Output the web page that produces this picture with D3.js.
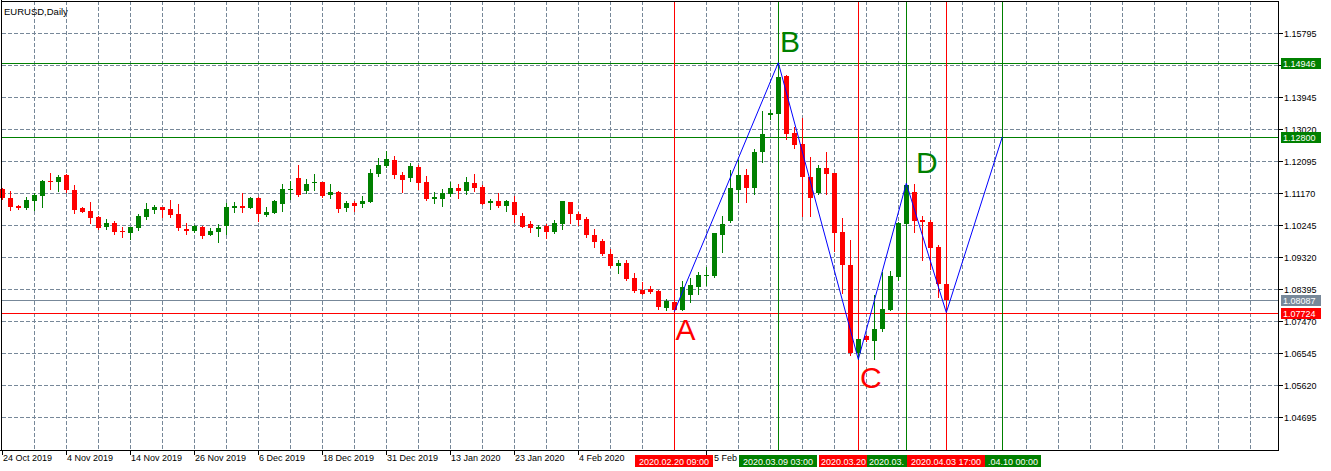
<!DOCTYPE html>
<html><head><meta charset="utf-8">
<script src="https://cdn.jsdelivr.net/npm/d3@7"></script>
<style>
body{margin:0;background:#fff}
svg{display:block}
text{font-family:"Liberation Sans",Arial,sans-serif}
</style>
</head><body>
<svg id="chart" width="1331" height="471"></svg>
<script>
// ---- data (EURUSD daily) ----
const opens = [1.1130,1.1104,1.1080,1.1075,1.1095,1.1110,1.1154,1.1150,1.1170,1.1127,
1.1075,1.1066,1.1049,1.1020,1.1031,1.1009,1.1002,1.1018,1.1048,1.1069,
1.1078,1.1072,1.1057,1.1014,1.1008,1.1020,1.0997,1.1005,1.1023,1.1075,
1.1081,1.1075,1.1104,1.1055,1.1061,1.1087,1.1127,1.1161,1.1125,1.1147,
1.1151,1.1111,1.1121,1.1075,1.1089,1.1087,1.1093,1.1174,1.1197,1.1213,
1.1170,1.1162,1.1193,1.1150,1.1101,1.1101,1.1116,1.1132,1.1125,1.1147,
1.1135,1.1090,1.1095,1.1081,1.1092,1.1051,1.1028,1.1015,1.1023,1.1006,
1.1029,1.1092,1.1057,1.1043,1.0997,1.0979,1.0942,1.0908,1.0916,1.0872,
1.0838,1.0841,1.0836,1.0786,1.0802,1.0781,1.0824,1.0847,1.0878,1.0878,
1.0997,1.1038,1.1127,1.1170,1.1133,1.1237,1.1344,1.1347,1.1457,1.1292,
1.1260,1.1165,1.1119,1.1191,1.1176,1.1005,1.0910,1.0654,1.0705,1.0691,
1.0726,1.0781,1.0876,1.1029,1.1122,1.1039,1.1035,1.0963,1.0855];
const highs = [1.1132,1.1124,1.1082,1.1106,1.1117,1.1155,1.1177,1.1170,1.1172,1.1142,
1.1076,1.1092,1.1050,1.1043,1.1037,1.1020,1.1019,1.1057,1.1089,1.1082,
1.1078,1.1098,1.1087,1.1030,1.1025,1.1023,1.1017,1.1028,1.1088,1.1092,
1.1117,1.1107,1.1107,1.1078,1.1098,1.1145,1.1154,1.1200,1.1158,1.1174,
1.1151,1.1145,1.1124,1.1095,1.1095,1.1109,1.1187,1.1219,1.1239,1.1225,
1.1179,1.1204,1.1199,1.1167,1.1120,1.1130,1.1149,1.1144,1.1164,1.1173,
1.1140,1.1101,1.1117,1.1098,1.1110,1.1060,1.1037,1.1025,1.1029,1.1040,
1.1096,1.1093,1.1064,1.1049,1.1014,1.0985,1.0956,1.0924,1.0924,1.0887,
1.0861,1.0849,1.0838,1.0812,1.0803,1.0864,1.0871,1.0890,1.0905,1.1003,
1.1052,1.1184,1.1214,1.1187,1.1246,1.1356,1.1357,1.14946,1.1460,1.1310,
1.1336,1.1223,1.1200,1.1237,1.1176,1.1045,1.0983,1.0697,1.0706,1.0824,
1.0890,1.0893,1.1035,1.1146,1.1145,1.1052,1.1039,1.0969,1.0855];
const lows = [1.1101,1.1069,1.1073,1.1072,1.1069,1.1078,1.1130,1.1125,1.1122,1.1060,
1.1062,1.1032,1.1015,1.1014,1.1000,1.0992,1.0985,1.1011,1.1044,1.1060,
1.1049,1.1049,1.1011,1.1000,1.1006,1.0987,1.0996,1.0977,1.0999,1.1064,
1.1064,1.1074,1.1037,1.1051,1.1061,1.1066,1.1101,1.1109,1.1119,1.1127,
1.1107,1.1104,1.1064,1.1067,1.1067,1.1078,1.1093,1.1168,1.1194,1.1162,
1.1122,1.1154,1.1129,1.1099,1.1089,1.1081,1.1108,1.1102,1.1115,1.1125,
1.1085,1.1073,1.1078,1.1067,1.1035,1.1019,1.1006,1.0995,1.0989,1.1003,
1.1015,1.1032,1.1026,1.0992,1.0963,1.0939,1.0905,1.0888,1.0866,1.0832,
1.0825,1.0828,1.0784,1.0780,1.0775,1.0781,1.0803,1.0827,1.0852,1.0876,
1.0948,1.1035,1.1091,1.1093,1.1116,1.1208,1.1333,1.1347,1.1273,1.1249,
1.1052,1.1052,1.1116,1.1116,1.0951,1.0828,1.0650,1.0637,1.0691,1.0638,
1.0720,1.0779,1.0866,1.1029,1.1006,1.0925,1.0899,1.0818,1.07724];
const closes = [1.1102,1.1078,1.1075,1.1098,1.1112,1.1153,1.1150,1.1164,1.1127,1.1070,
1.1064,1.1047,1.1017,1.1031,1.1005,1.1004,1.1019,1.1051,1.1072,1.1078,
1.1070,1.1055,1.1017,1.1008,1.1022,1.0994,1.1008,1.1017,1.1078,1.1081,
1.1075,1.1104,1.1057,1.1064,1.1095,1.1130,1.1130,1.1112,1.1145,1.1151,
1.1110,1.1121,1.1073,1.1089,1.1081,1.1095,1.1176,1.1199,1.1216,1.1171,
1.1156,1.1195,1.1148,1.1101,1.1106,1.1118,1.1132,1.1125,1.1150,1.1133,
1.1087,1.1095,1.1081,1.1095,1.1055,1.1021,1.1018,1.1020,1.1006,1.1031,
1.1095,1.1058,1.1041,1.0996,1.0977,1.0942,1.0908,1.0916,1.0870,1.0835,
1.0827,1.0832,1.0789,1.0806,1.0781,1.0845,1.0851,1.0881,1.0881,1.1003,
1.1029,1.1133,1.1170,1.1133,1.1237,1.1289,1.1350,1.1454,1.1289,1.1258,
1.1165,1.1102,1.1191,1.1174,1.1003,1.0909,1.0654,1.0697,1.0694,1.0725,
1.0784,1.0879,1.1030,1.1142,1.1038,1.1033,1.0960,1.0855,1.08087];

const priceTicks = ["1.15795","1.14870","1.13945","1.13020","1.12095","1.11170","1.10245",
"1.09320","1.08395","1.07470","1.06545","1.05620","1.04695"];
const dateLabelBars = [0,8,16,24,32,40,48,56,64,72];
const dateLabels = ["24 Oct 2019","4 Nov 2019","14 Nov 2019","26 Nov 2019","6 Dec 2019",
"18 Dec 2019","31 Dec 2019","13 Jan 2020","23 Jan 2020","4 Feb 2020"];
// "25 Feb 2020" label (bar 88) is mostly hidden by the time-line boxes; only its middle shows
const partialDateBar = 88;
const partialDateText = "5 Feb 2";

// zigzag A-B-C-D and projection
const zigBars = [84,97,107,113,118,125];
const zigPrices = [1.0775,1.14946,1.0637,1.1146,1.07724,1.12800];

// horizontal levels
const hPrices = [1.14946,1.12800,1.08087,1.07724];
const hColors = ["#008000","#008000","#778899","#ff0000"];

// vertical time lines (label text = part visible on the time axis)
const vBars = [84,97,107,113,118,125];
const vColors = ["#ff0000","#008000","#ff0000","#008000","#ff0000","#008000"];
const vTexts = ["2020.02.20 09:00","2020.03.09 03:00","2020.03.20","2020.03.",
"2020.04.03 17:00",".04.10 00:00"];

// point letters
const letters = ["A","B","C","D"];
const letterBars = [84.15,97.2,107.2,114.2];
const letterPrices = [1.0693,1.15264,1.05534,1.11749];
const letterColors = ["#ff0000","#008000","#ff0000","#008000"];

// ---- layout ----
const svg = d3.select("#chart");
const plotL = 2, plotR = 1278, plotT = 1, plotB = 450;
const x = d3.scaleLinear().domain([0, 158]).range([2.3, 2.3 + 8*158]);
const y = d3.scaleLinear().domain([1.04695, 1.15795]).range([417.3, 33.3]);
const px = v => Math.round(v) + 0.5;
const gridColor = "#778899";

const g = svg.append("g").attr("shape-rendering","crispEdges");

// grid: vertical
const vGrid = d3.range(4, 157, 4);
g.selectAll(".vg").data(vGrid).join("line")
  .attr("x1", d => px(x(d))).attr("x2", d => px(x(d)))
  .attr("y1", plotT).attr("y2", plotB)
  .attr("stroke", gridColor).attr("stroke-dasharray","4,2");
// grid: horizontal
g.selectAll(".hg").data(priceTicks).join("line")
  .attr("x1", plotL).attr("x2", plotR)
  .attr("y1", d => px(y(+d))).attr("y2", d => px(y(+d)))
  .attr("stroke", gridColor).attr("stroke-dasharray","4,2");

// horizontal level lines
g.selectAll(".hl").data(hPrices).join("line")
  .attr("x1", plotL).attr("x2", plotR)
  .attr("y1", d => px(y(d))).attr("y2", d => px(y(d)))
  .attr("stroke", (d,i) => hColors[i]);

// vertical time lines
g.selectAll(".vl").data(vBars).join("line")
  .attr("x1", d => px(x(d))).attr("x2", d => px(x(d)))
  .attr("y1", plotT).attr("y2", plotB)
  .attr("stroke", (d,i) => vColors[i]);

// candles
const bars = opens.map((o,i) => ({i, o, h: highs[i], l: lows[i], c: closes[i]}));
const cg = g.append("g");
cg.selectAll(".wick").data(bars).join("line")
  .attr("x1", d => px(x(d.i))).attr("x2", d => px(x(d.i)))
  .attr("y1", d => Math.round(y(d.h))).attr("y2", d => Math.round(y(d.l)) + 1)
  .attr("stroke", d => d.c >= d.o ? "#008000" : "#ff0000");
cg.selectAll(".body").data(bars).join("rect")
  .attr("x", d => Math.round(x(d.i)) - 2)
  .attr("width", 5)
  .attr("y", d => Math.round(y(Math.max(d.o, d.c))))
  .attr("height", d => Math.max(1, Math.round(y(Math.min(d.o, d.c))) - Math.round(y(Math.max(d.o, d.c)))))
  .attr("fill", d => d.c >= d.o ? "#008000" : "#ff0000");

// zigzag
const zz = zigBars.map((b,i) => [x(b), y(zigPrices[i])]);
svg.append("path").attr("d", d3.line()(zz))
  .attr("fill","none").attr("stroke","#0000ff").attr("stroke-width",1);

// letters
svg.selectAll(".letter").data(letters).join("text")
  .attr("x", (d,i) => x(letterBars[i]))
  .attr("y", (d,i) => y(letterPrices[i]))
  .attr("font-size", 30)
  .attr("fill", (d,i) => letterColors[i])
  .text(d => d);

// frame & axes
g.append("line").attr("x1", 1.5).attr("x2", 1.5).attr("y1", 0).attr("y2", plotB + 0.5).attr("stroke","#000");
g.append("line").attr("x1", 1).attr("x2", plotR + 1).attr("y1", 1.5).attr("y2", 1.5).attr("stroke","#000");
g.append("line").attr("x1", plotR + 0.5).attr("x2", plotR + 0.5).attr("y1", 1).attr("y2", plotB + 1).attr("stroke","#000");
g.append("line").attr("x1", 0).attr("x2", plotR + 1).attr("y1", plotB + 0.5).attr("y2", plotB + 0.5).attr("stroke","#000");

// price axis ticks + labels
g.selectAll(".pt").data(priceTicks).join("line")
  .attr("x1", plotR + 1).attr("x2", plotR + 5)
  .attr("y1", d => px(y(+d))).attr("y2", d => px(y(+d)))
  .attr("stroke","#000");
svg.selectAll(".ptl").data(priceTicks).join("text")
  .attr("x", plotR + 6).attr("y", d => Math.round(y(+d)) + 4)
  .attr("font-size", 9).attr("fill","#000").text(d => d);

// price level boxes
const pb = svg.selectAll(".pb").data(hPrices).join("g");
pb.append("rect").attr("x", plotR + 3).attr("width", 40)
  .attr("y", d => Math.round(y(d)) - 5).attr("height", 11)
  .attr("fill", (d,i) => hColors[i]);
pb.append("text").attr("x", plotR + 5).attr("y", d => Math.round(y(d)) + 4)
  .attr("font-size", 9).attr("fill","#fff").text(d => d.toFixed(5));

// date axis ticks + labels
g.selectAll(".dt").data(dateLabelBars.concat([partialDateBar])).join("line")
  .attr("x1", d => px(x(d))).attr("x2", d => px(x(d)))
  .attr("y1", plotB + 1).attr("y2", plotB + 5).attr("stroke","#000");
svg.selectAll(".dl").data(dateLabels).join("text")
  .attr("x", (d,i) => Math.round(x(dateLabelBars[i])) + 1)
  .attr("y", 461).attr("font-size", 9).attr("fill","#000").text(d => d);

// time line boxes: each box is 78px centred on its line; later boxes cover earlier ones.
// Visible extent of each box: [left, right]
const half = 39;
const centers = vBars.map(b => Math.round(x(b)));
const boxL = centers.map(c => c - half), boxR = centers.map(c => c + half);
// drawing order in the reference: 0,1,2,3,5,4 (box 4 on top of 5)
const order = [0,1,2,3,5,4];
const vis = vBars.map((b,i) => {
  let l = boxL[i], r = boxR[i];
  const pos = order.indexOf(i);
  order.slice(pos + 1).forEach(j => {
    if (boxL[j] < r && boxL[j] > l) r = Math.min(r, boxL[j]);
    if (boxR[j] > l && boxR[j] < r) l = Math.max(l, boxR[j]);
  });
  return [l, r];
});
// partial "25 Feb 2020" between two boxes
svg.append("text").attr("x", vis[0][1] + 1).attr("y", 461)
  .attr("font-size", 9).attr("fill","#000").text(partialDateText);

const tb = svg.selectAll(".tb").data(vBars).join("g");
tb.append("rect").attr("x", (d,i) => vis[i][0]).attr("width", (d,i) => vis[i][1] - vis[i][0])
  .attr("y", 455).attr("height", 12).attr("fill", (d,i) => vColors[i]);
tb.append("text")
  .attr("x", (d,i) => {
    if (vis[i][0] === boxL[i] && vis[i][1] === boxR[i]) return centers[i];
    if (vis[i][0] === boxL[i]) return vis[i][0] + 2;
    return boxR[i] - 3;
  })
  .attr("text-anchor", (d,i) => {
    if (vis[i][0] === boxL[i] && vis[i][1] === boxR[i]) return "middle";
    if (vis[i][0] === boxL[i]) return "start";
    return "end";
  })
  .attr("y", 464.5)
  .attr("font-size", 9).attr("fill","#fff").text((d,i) => vTexts[i]);

// title
svg.append("text").attr("x", 4).attr("y", 15).attr("font-size", 9.5).attr("fill","#000").text("EURUSD,Daily");
</script>
</body></html>
